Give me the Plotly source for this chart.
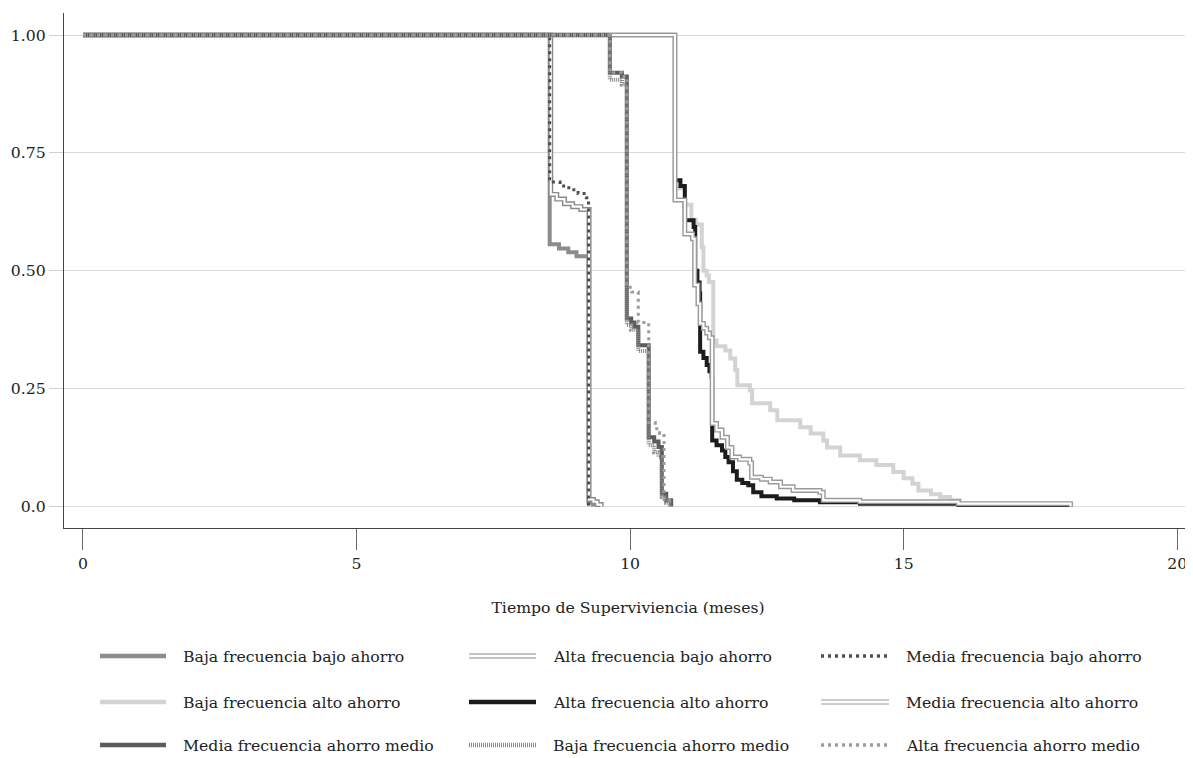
import plotly.graph_objects as go

# ---------------- data ----------------
series_names = [
    "Baja frecuencia bajo ahorro", "Alta frecuencia bajo ahorro", "Media frecuencia bajo ahorro",
    "Baja frecuencia alto ahorro", "Alta frecuencia alto ahorro", "Media frecuencia alto ahorro",
    "Media frecuencia ahorro medio", "Baja frecuencia ahorro medio", "Alta frecuencia ahorro medio",
]

t_baja_bajo = [0, 8.53, 8.70, 8.87, 9.02, 9.24, 9.32]
s_baja_bajo = [1.0, 0.556, 0.547, 0.539, 0.531, 0.008, 0.0]

t_alta_bajo = [0, 8.55, 8.66, 8.80, 8.95, 9.10, 9.25, 9.33, 9.40, 9.47]
s_alta_bajo = [1.0, 0.662, 0.652, 0.642, 0.636, 0.630, 0.015, 0.010, 0.004, 0.0]

t_media_bajo = [0, 8.53, 8.72, 8.88, 9.05, 9.20, 9.24, 9.27]
s_media_bajo = [1.0, 0.688, 0.680, 0.672, 0.664, 0.655, 0.005, 0.0]

t_baja_alto = [0, 10.82, 11.0, 11.12, 11.2, 11.31, 11.34, 11.40, 11.44, 11.52, 11.58, 11.74, 11.83,
               11.92, 11.96, 12.19, 12.23, 12.56, 12.69, 13.11, 13.30, 13.53, 13.60, 13.84, 14.20,
               14.50, 14.81, 15.0, 15.16, 15.27, 15.50, 15.67, 15.85, 16.03]
s_baja_alto = [1.0, 0.675, 0.640, 0.608, 0.598, 0.550, 0.500, 0.490, 0.476, 0.352, 0.340, 0.331, 0.314,
               0.289, 0.257, 0.246, 0.219, 0.204, 0.183, 0.168, 0.155, 0.140, 0.125, 0.108, 0.098,
               0.088, 0.073, 0.060, 0.048, 0.034, 0.026, 0.020, 0.013, 0.011]

t_alta_alto = [0, 10.82, 10.92, 11.0, 11.16, 11.19, 11.23, 11.27, 11.28, 11.34, 11.40, 11.45, 11.49,
               11.5, 11.58, 11.68, 11.74, 11.80, 11.88, 11.95, 12.05, 12.16, 12.25, 12.4, 12.68,
               13.0, 13.47, 14.2, 16.0, 18.05]
s_alta_alto = [1.0, 0.692, 0.680, 0.607, 0.593, 0.500, 0.475, 0.452, 0.328, 0.315, 0.300, 0.287, 0.275,
               0.140, 0.130, 0.119, 0.105, 0.094, 0.075, 0.057, 0.050, 0.045, 0.030, 0.022, 0.017,
               0.013, 0.009, 0.006, 0.003, 0.0]

t_media_alto = [0, 10.82, 11.0, 11.14, 11.18, 11.24, 11.28, 11.34, 11.40, 11.45, 11.5, 11.58, 11.68,
                11.78, 11.86, 12.0, 12.19, 12.22, 12.4, 12.56, 12.75, 12.98, 13.47, 13.53, 14.2, 16.0, 18.05]
s_media_alto = [1.0, 0.650, 0.578, 0.568, 0.470, 0.430, 0.388, 0.378, 0.368, 0.358, 0.176, 0.162, 0.147,
                0.125, 0.105, 0.100, 0.092, 0.062, 0.058, 0.052, 0.042, 0.034, 0.030, 0.013, 0.010, 0.006, 0.0]

t_media_medio = [0, 9.63, 9.85, 9.94, 10.02, 10.08, 10.15, 10.34, 10.44, 10.52, 10.58, 10.66, 10.75]
s_media_medio = [1.0, 0.920, 0.912, 0.399, 0.390, 0.381, 0.342, 0.147, 0.138, 0.126, 0.027, 0.013, 0.0]

t_baja_medio = [0, 9.63, 9.85, 9.94, 10.02, 10.15, 10.34, 10.44, 10.52, 10.58, 10.66, 10.72]
s_baja_medio = [1.0, 0.905, 0.895, 0.385, 0.375, 0.330, 0.130, 0.115, 0.105, 0.020, 0.008, 0.0]

t_alta_medio = [0, 9.63, 9.85, 9.94, 10.03, 10.15, 10.34, 10.46, 10.54, 10.62, 10.72]
s_alta_medio = [1.0, 0.920, 0.912, 0.465, 0.455, 0.390, 0.178, 0.165, 0.155, 0.015, 0.0]

series_t = [t_baja_bajo, t_alta_bajo, t_media_bajo, t_baja_alto, t_alta_alto, t_media_alto,
            t_media_medio, t_baja_medio, t_alta_medio]
series_s = [s_baja_bajo, s_alta_bajo, s_media_bajo, s_baja_alto, s_alta_alto, s_media_alto,
            s_media_medio, s_baja_medio, s_alta_medio]

x_ticks = [0, 5, 10, 15, 20]
y_ticks = [0, 0.25, 0.5, 0.75, 1.0]
y_tick_labels = ["0.0", "0.25", "0.50", "0.75", "1.00"]
x_title = "Tiempo de Superviviencia (meses)"

# ---------------- styles ----------------
styles = [
    dict(kind="solid", color="#8c8c8c", width=4),
    dict(kind="double", color="#8a8a8a", width=5),
    dict(kind="dot", color="#4e4e4e", width=3),
    dict(kind="solid", color="#d3d3d3", width=4),
    dict(kind="solid", color="#1c1c1c", width=4),
    dict(kind="double", color="#9a9a9a", width=5),
    dict(kind="solid", color="#5c5c5c", width=4),
    dict(kind="hatch", color="#8a8a8a", width=4),
    dict(kind="dot", color="#9c9c9c", width=3),
]
dash_map = {"solid": "solid", "double": "solid", "dot": "3px,4px", "hatch": "1px,1px"}

FONT = "DejaVu Serif"
FS = 15.7
OFF = 8                      # page body margin offset
W, H = 1193 - OFF, 758 - OFF
PL, PR, PT, PB = 64 - OFF, 1, 13 - OFF, 230

fig = go.Figure()
for name, t, s, st in zip(series_names, series_t, series_s, styles):
    fig.add_trace(go.Scatter(
        x=t, y=s, mode="lines", name=name, showlegend=False,
        line=dict(color=st["color"], width=st["width"], dash=dash_map[st["kind"]], shape="hv"),
        hoverinfo="skip"))
    if st["kind"] == "double":
        fig.add_trace(go.Scatter(
            x=t, y=s, mode="lines", name=name, showlegend=False,
            line=dict(color="white", width=st["width"] * 0.42, shape="hv"), hoverinfo="skip"))

# ---------------- custom legend (3 x 3) ----------------
plot_w = W - PL - PR
plot_h = H - PT - PB
def xp(px):
    return (px - OFF - PL) / plot_w
def yp(py):
    return (H - PB - (py - OFF)) / plot_h

col_sample = [(100, 166), (469, 536), (821, 889)]
col_text = [181, 551, 904]
row_y = [656, 702, 745]

shapes = []
annotations = []
for i, (name, st) in enumerate(zip(series_names, styles)):
    r, c = divmod(i, 3)
    x0, x1 = col_sample[c]
    py = row_y[r]
    if st["kind"] == "double":
        for off in (-2.0, 2.0):
            shapes.append(dict(type="line", xref="paper", yref="paper",
                               x0=xp(x0), x1=xp(x1), y0=yp(py + off), y1=yp(py + off),
                               line=dict(color=st["color"], width=1.2)))
    else:
        shapes.append(dict(type="line", xref="paper", yref="paper",
                           x0=xp(x0), x1=xp(x1), y0=yp(py), y1=yp(py),
                           line=dict(color=st["color"], width=st["width"] + 0.3,
                                     dash=dash_map[st["kind"]])))
    annotations.append(dict(xref="paper", yref="paper", x=xp(col_text[c]), y=yp(py),
                            xanchor="left", yanchor="middle", showarrow=False, text=name,
                            font=dict(family=FONT, size=FS, color="#222222")))

fig.update_layout(
    width=W, height=H,
    margin=dict(l=PL, r=PR, t=PT, b=PB),
    paper_bgcolor="white", plot_bgcolor="white",
    font=dict(family=FONT, size=FS, color="#222222"),
    showlegend=False,
    shapes=shapes, annotations=annotations,
    xaxis=dict(range=[-0.347, 20.27], tickvals=x_ticks, showgrid=False, zeroline=False,
               showline=True, linecolor="#444444", linewidth=1.3,
               ticks="outside", ticklen=21, tickcolor="#6a6a6a", tickwidth=1.3,
               tickfont=dict(family=FONT, size=FS, color="#222222"),
               title=dict(text=x_title, font=dict(family=FONT, size=FS, color="#222222"), standoff=30)),
    yaxis=dict(range=[-0.0456, 1.0467], tickvals=y_ticks, ticktext=y_tick_labels,
               showgrid=True, gridcolor="#dadada", gridwidth=1, zeroline=False,
               showline=True, linecolor="#444444", linewidth=1.3,
               ticks="outside", ticklen=14, tickcolor="#d0d0d0", tickwidth=1,
               tickfont=dict(family=FONT, size=FS, color="#222222")),
)

fig.write_html("out.html")
